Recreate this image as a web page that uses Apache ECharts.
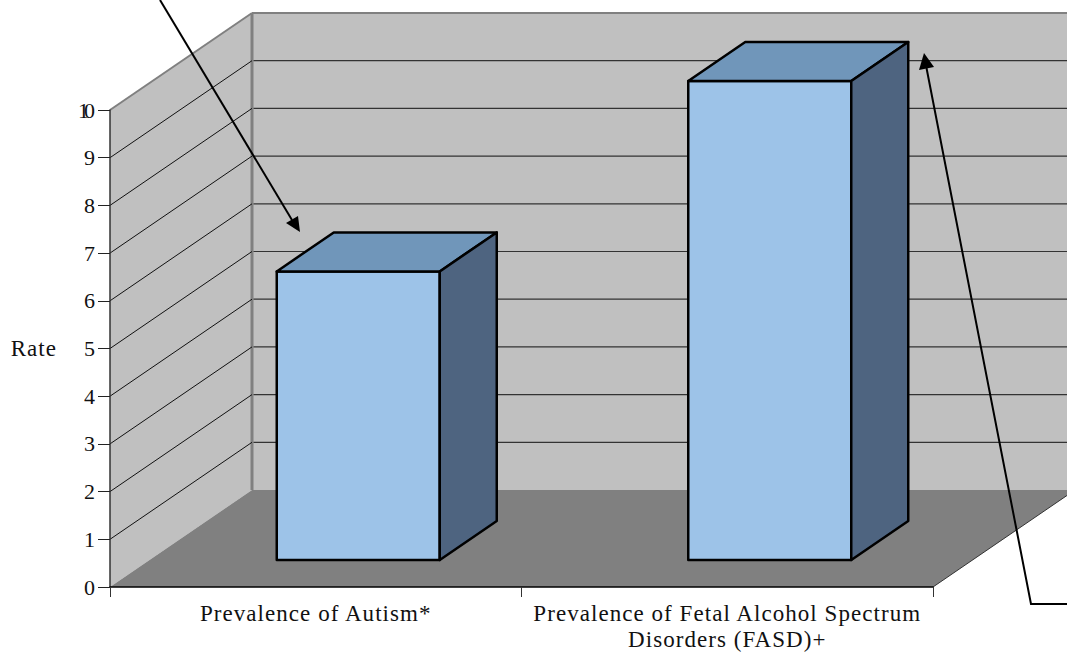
<!DOCTYPE html>
<html>
<head>
<meta charset="utf-8">
<style>
  html, body { margin: 0; padding: 0; background: #fff; }
  #main { width: 1067px; height: 653px; }
</style>
<script src="https://cdn.jsdelivr.net/npm/echarts@6/dist/echarts.min.js"></script>
</head>
<body>
<div id="main"></div>
<script>
var categories = ['Prevalence of Autism*', 'Prevalence of Fetal Alcohol Spectrum\nDisorders (FASD)+'];
var rates = [6.05, 10.04];
var yTicks = [0, 1, 2, 3, 4, 5, 6, 7, 8, 9, 10];

// oblique offsets of the fake 3d box, in pixels
var wallDepth = [142, -97];
var barDepth = [57, -39];
var barShift = [42.5, -27];
var barWidth = 163;

function poly(points, fill, stroke, width) {
    return {
        type: 'polygon',
        shape: { points: points },
        style: { fill: fill, stroke: stroke || null, lineWidth: width || 0, lineJoin: 'round' }
    };
}

function seg(a, b, color, width) {
    return {
        type: 'line',
        shape: { x1: a[0], y1: a[1], x2: b[0], y2: b[1] },
        style: { stroke: color, lineWidth: width, fill: null }
    };
}

// walls and floor
function renderRoom(params, api) {
    var c = params.coordSys;
    var l = c.x, r = c.x + c.width, t = c.y, b = c.y + c.height;
    var dx = wallDepth[0], dy = wallDepth[1];
    return {
        type: 'group',
        children: [
            poly([[l + dx, t + dy], [r + dx, t + dy], [r + dx, b + dy], [l + dx, b + dy]], '#c0c0c0'),
            poly([[l, t], [l + dx, t + dy], [l + dx, b + dy], [l, b]], '#c0c0c0'),
            poly([[l, b], [l + dx, b + dy], [r + dx, b + dy], [r, b]], '#808080'),
            seg([l, t], [l + dx, t + dy], '#808080', 2),
            seg([l + dx, t + dy], [r + dx, t + dy], '#808080', 2),
            seg([l + dx, t + dy], [l + dx, b + dy], '#808080', 3),
            seg([r, b], [r + dx, b + dy], '#333333', 1)
        ]
    };
}

// one gridline per tick, bent around the corner
function renderGrid(params, api) {
    var c = params.coordSys;
    var y = api.coord([0, api.value(1)])[1];
    var l = c.x, r = c.x + c.width;
    var dx = wallDepth[0], dy = wallDepth[1];
    return {
        type: 'group',
        children: [
            seg([l, y], [l + dx, y + dy], '#111111', 1),
            seg([l + dx + 1.5, y + dy], [r + dx, y + dy], '#333333', 1.2)
        ]
    };
}

function renderBar(params, api) {
    var p0 = api.coord([api.value(0), 0]);
    var p1 = api.coord([api.value(0), api.value(1)]);
    var x0 = p0[0] + barShift[0] - barWidth / 2;
    var x1 = x0 + barWidth;
    var yb = p0[1] + barShift[1];
    var yt = p1[1] + barShift[1];
    var dx = barDepth[0], dy = barDepth[1];
    return {
        type: 'group',
        children: [
            poly([[x0, yt], [x1, yt], [x1, yb], [x0, yb]], '#9dc3e8', '#000', 2.5),
            poly([[x0, yt], [x0 + dx, yt + dy], [x1 + dx, yt + dy], [x1, yt]], '#7096ba', '#000', 2.5),
            poly([[x1, yt], [x1 + dx, yt + dy], [x1 + dx, yb + dy], [x1, yb]], '#4e6480', '#000', 2.5)
        ]
    };
}

// annotation arrows, they sit on top of the chart
function arrow(points, head) {
    return [
        { type: 'polyline', z: 50, shape: { points: points }, style: { stroke: '#000', lineWidth: 2, fill: null } },
        { type: 'polygon', z: 50, shape: { points: head }, style: { fill: '#000' } }
    ];
}

// svg renderer so the wide letter spacing of the original can be set on the text
var myChart = echarts.init(document.getElementById('main'), null, { renderer: 'svg' });

var labelFont = 'Liberation Serif';

var option = {
    backgroundColor: '#ffffff',
    animation: false,
    grid: { left: 110, right: 134, top: 110, bottom: 66, outerBoundsMode: 'none' },
    xAxis: {
        type: 'category',
        data: categories,
        z: 5,
        axisLine: { lineStyle: { color: '#000', width: 1.5 } },
        axisTick: { show: true, length: 10, lineStyle: { color: '#333' } },
        axisLabel: { color: '#111', fontFamily: labelFont, fontSize: 23, lineHeight: 26.5, margin: 13, interval: 0 }
    },
    yAxis: {
        type: 'value',
        min: 0,
        max: 10,
        interval: 1,
        z: 5,
        name: 'Rate',
        nameLocation: 'middle',
        nameRotate: 0,
        nameGap: 53,
        nameTextStyle: { color: '#111', fontFamily: labelFont, fontSize: 23 },
        splitLine: { show: false },
        axisLine: { show: true, lineStyle: { color: '#333', width: 1.5 } },
        axisTick: { show: true, length: 12, lineStyle: { color: '#222' } },
        axisLabel: { color: '#111', fontFamily: labelFont, fontSize: 22, margin: 15 }
    },
    series: [
        { type: 'custom', name: 'room', z: 1, silent: true, data: [0], renderItem: renderRoom },
        { type: 'custom', name: 'grid', z: 2, silent: true, data: yTicks.slice(1, -1), renderItem: renderGrid },
        { type: 'custom', name: 'Rate', z: 3, data: rates.map(function (v, i) { return [i, v]; }), renderItem: renderBar }
    ],
    graphic: arrow([[160, 0], [292, 220]], [[300, 232], [286, 223], [298, 216]])
        .concat(arrow([[1067, 604], [1031, 604], [926.5, 68]], [[924, 53], [919, 70], [934, 67]]))
};

myChart.setOption(option);

document.querySelectorAll('#main text').forEach(function (t) {
    var s = t.textContent;
    if (s === '10') {
        t.style.letterSpacing = '-5px';
        t.setAttribute('dx', '-5');
    } else if (isNaN(s)) {
        t.style.letterSpacing = '1.05px';
    }
});
</script>
</body>
</html>
